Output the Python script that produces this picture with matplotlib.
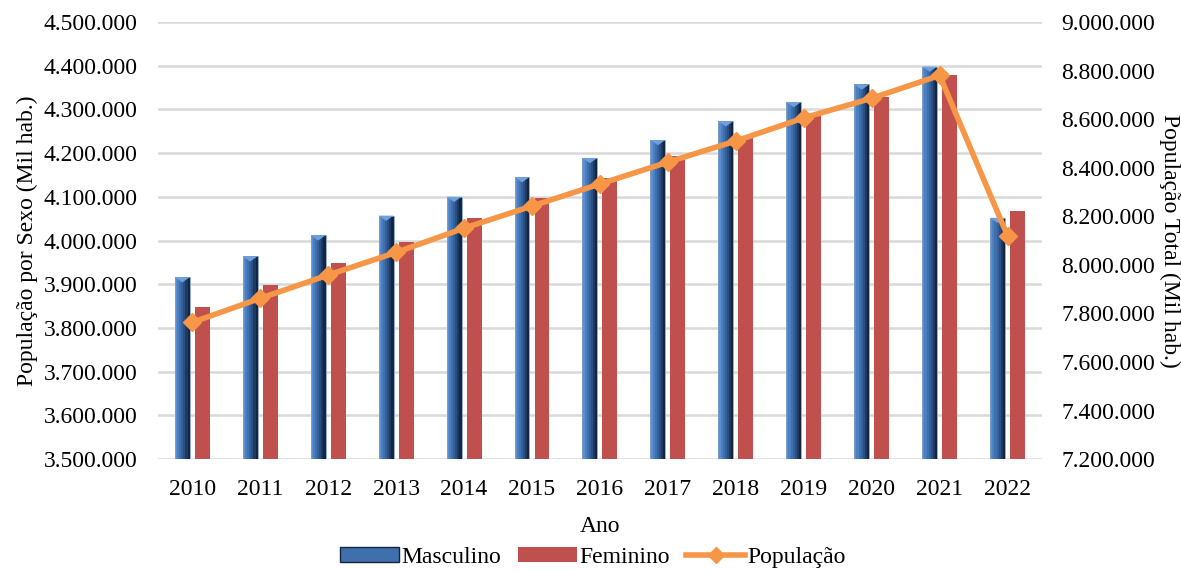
import matplotlib
matplotlib.use("Agg")
import matplotlib.pyplot as plt
from matplotlib.patches import Patch, Polygon
from matplotlib.lines import Line2D
import numpy as np

anos = ["2010", "2011", "2012", "2013", "2014", "2015", "2016",
        "2017", "2018", "2019", "2020", "2021", "2022"]
masculino = [3916000, 3964000, 4012000, 4057000, 4100000, 4145000, 4189000,
             4230000, 4273000, 4317000, 4357000, 4398000, 4052000]
feminino = [3847000, 3898000, 3949000, 3997000, 4051000, 4097000, 4144000,
            4193000, 4237000, 4288000, 4329000, 4379000, 4068000]
populacao = [7763000, 7862000, 7958000, 8051000, 8151000, 8242000, 8333000,
             8423000, 8510000, 8605000, 8686000, 8780000, 8118000]
left_ticks = list(range(3500000, 4500001, 100000))
right_ticks = list(range(7200000, 9000001, 200000))

plt.rcParams['font.family'] = ['Liberation Serif', 'DejaVu Serif']
FS = 17

def fmt(v):
    return f"{v:,}".replace(",", ".")

fig = plt.figure(figsize=(11.81, 5.71), dpi=100)
ax = fig.add_axes([0.134, 0.196, 0.748, 0.7655])
ax2 = ax.twinx()

x = np.arange(len(anos))
w = 0.22
off = 0.147
base = 3500000

# Masculino: simulate bevelled gradient with layered bars
blues = ["#5b8fd0", "#4a7fc0", "#3f70ad", "#35609a", "#2b4f80", "#1f3a60", "#14253d"]
n = len(blues)
sw = w / n
for i, c in enumerate(blues):
    ax.bar(x - off - w / 2 + sw * (i + 0.5), [m - base for m in masculino], sw,
           bottom=base, color=c, linewidth=0, zorder=2)
ax.bar(x - off, [m - base for m in masculino], w, bottom=base,
       facecolor="none", edgecolor="#7f9fc8", linewidth=0.6, zorder=3)
# top bevel triangle
for xi, m in zip(x, masculino):
    tri = Polygon([[xi - off - w / 2, m], [xi - off + w / 2, m],
                   [xi - off, m - 12000]], closed=True,
                  facecolor="#6fa0dc", edgecolor="none", zorder=3)
    ax.add_patch(tri)

ax.bar(x + off, [f - base for f in feminino], w, bottom=base,
       color="#C0504D", linewidth=0, zorder=2)

ax.set_xlim(-0.5, len(anos) - 0.5)
ax.set_ylim(3500000, 4500000)
ax.set_yticks(left_ticks)
ax.set_yticklabels([fmt(v) for v in left_ticks], fontsize=FS)
ax.set_xticks(x)
ax.set_xticklabels(anos, fontsize=FS)
ax.grid(axis='y', color="#D9D9D9", linewidth=1.8, zorder=0)
ax.set_axisbelow(True)
ax.tick_params(axis='y', length=0, pad=15)
ax.tick_params(axis='x', length=0, pad=14)
for s in ax.spines.values():
    s.set_visible(False)
ax.set_ylabel("População por Sexo (Mil hab.)", fontsize=FS, labelpad=4)
ax.set_xlabel("Ano", fontsize=FS, labelpad=12)

ax2.plot(x, populacao, color="#F79646", linewidth=4, marker="D",
         markersize=9, zorder=5)
ax2.set_ylim(7200000, 9000000)
ax2.set_yticks(right_ticks)
ax2.set_yticklabels([fmt(v) for v in right_ticks], fontsize=FS)
ax2.tick_params(length=0, pad=14)
for s in ax2.spines.values():
    s.set_visible(False)
ax2.set_ylabel("População Total (Mil hab.)", fontsize=FS, rotation=270,
               labelpad=18)

handles = [Patch(facecolor="#3f70ad", edgecolor="#14253d"),
           Patch(facecolor="#C0504D"),
           Line2D([0], [0], color="#F79646", linewidth=4, marker="D",
                  markersize=8)]
fig.legend(handles, ["Masculino", "Feminino", "População"], loc="center",
           bbox_to_anchor=(0.502, 0.024), ncol=3, frameon=False, fontsize=FS,
           handlelength=2.5, handletextpad=0.1, columnspacing=0.7,
           handleheight=0.6, borderaxespad=0, borderpad=0)

fig.savefig("out.png", dpi=100)
